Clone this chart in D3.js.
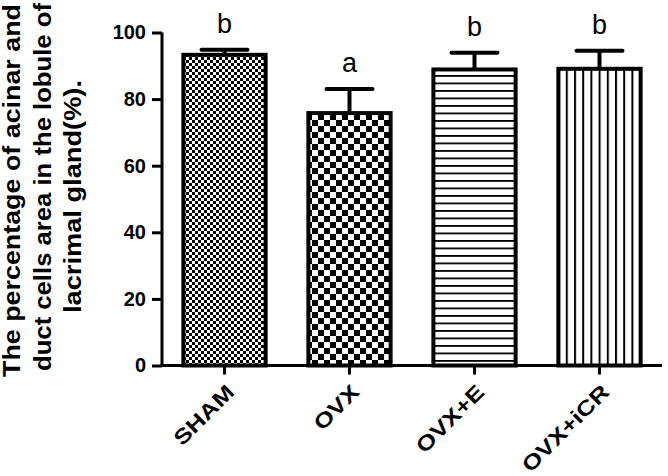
<!DOCTYPE html>
<html><head><meta charset="utf-8">
<script src="https://cdn.jsdelivr.net/npm/d3@7/dist/d3.min.js"></script>
<style>body{margin:0;background:#fff}svg{display:block}</style>
</head><body>
<script>
const categories = ["SHAM", "OVX", "OVX+E", "OVX+iCR"];
const means = [93.3, 75.8, 88.9, 89.1];
const sems = [1.5, 7.2, 5.0, 5.4];
const letters = ["b", "a", "b", "b"];
const yTicks = [0, 20, 40, 60, 80, 100];
const yTitle = ["The percentage of acinar and", "duct cells area in the lobule of", "lacrimal gland(%)."];
const patterns = ["fineCheck", "coarseCheck", "hLines", "vLines"];

const W = 668, H = 476;
const FONT = "Liberation Sans, Arial, sans-serif";
const svg = d3.select("body").append("svg").attr("width", W).attr("height", H);
const defs = svg.append("defs");

function check(id, s) {
  const p = defs.append("pattern").attr("id", id).attr("patternUnits", "userSpaceOnUse")
    .attr("width", 2 * s).attr("height", 2 * s);
  p.append("rect").attr("width", 2 * s).attr("height", 2 * s).attr("fill", "#fff");
  p.append("rect").attr("width", s).attr("height", s).attr("fill", "#000");
  p.append("rect").attr("x", s).attr("y", s).attr("width", s).attr("height", s).attr("fill", "#000");
}
check("fineCheck", 3);
check("coarseCheck", 6);
{
  const p = defs.append("pattern").attr("id", "hLines").attr("patternUnits", "userSpaceOnUse")
    .attr("width", 8).attr("height", 7.5);
  p.append("rect").attr("width", 8).attr("height", 7.5).attr("fill", "#fff");
  p.append("rect").attr("y", 0).attr("width", 8).attr("height", 1.8).attr("fill", "#000");
}
{
  const p = defs.append("pattern").attr("id", "vLines").attr("patternUnits", "userSpaceOnUse")
    .attr("width", 8.2).attr("height", 8);
  p.append("rect").attr("width", 8.2).attr("height", 8).attr("fill", "#fff");
  p.append("rect").attr("x", 0).attr("width", 2).attr("height", 8).attr("fill", "#000");
}

const x0 = 162, x1 = 662, yTop = 32.5, yBot = 365.5;
const x = d3.scaleBand().domain(categories).range([x0, x1]).paddingInner(0.31).paddingOuter(0.155);
const y = d3.scaleLinear().domain([0, 100]).range([yBot, yTop]);

// bars
const g = svg.append("g");
categories.forEach((c, i) => {
  const bx = x(c) + 2, bw = x.bandwidth() - 4;
  const top = y(means[i]);
  g.append("rect").attr("x", bx).attr("y", top).attr("width", bw).attr("height", y(0) - top)
    .attr("fill", `url(#${patterns[i]})`).attr("stroke", "#000").attr("stroke-width", 4);
  const cx = x(c) + x.bandwidth() / 2;
  const ey = y(means[i] + sems[i]);
  g.append("line").attr("x1", cx).attr("x2", cx).attr("y1", top).attr("y2", ey)
    .attr("stroke", "#000").attr("stroke-width", 4);
  g.append("line").attr("x1", cx - 23).attr("x2", cx + 23).attr("y1", ey).attr("y2", ey)
    .attr("stroke", "#000").attr("stroke-width", 4).attr("stroke-linecap", "round");
  g.append("text").attr("x", cx).attr("y", ey - 17).attr("text-anchor", "middle")
    .attr("font-family", FONT).attr("font-size", 27)
    .attr("fill", "#000").text(letters[i]);
});

// y axis
const yAx = svg.append("g").attr("transform", `translate(${x0},0)`)
  .call(d3.axisLeft(y).tickValues(yTicks).tickSize(10).tickPadding(6));
yAx.select(".domain").attr("stroke-width", 3).attr("d", `M0,${yTop}V${yBot}`);
yAx.selectAll(".tick line").attr("stroke-width", 3);
yAx.selectAll(".tick text").attr("font-family", FONT)
  .attr("font-size", 20).attr("font-weight", "bold").attr("fill", "#000");

// x axis
const xAx = svg.append("g").attr("transform", `translate(0,${yBot})`)
  .call(d3.axisBottom(x).tickSize(9).tickPadding(4));
xAx.select(".domain").attr("stroke-width", 3).attr("d", `M${x0 - 1.5},0H${x1}`);
xAx.selectAll(".tick line").attr("stroke-width", 3);
xAx.selectAll(".tick text").attr("font-family", FONT)
  .attr("font-size", 21).attr("font-weight", "bold").attr("fill", "#000")
  .attr("text-anchor", "end").attr("dy", null).attr("y", 0)
  .attr("transform", "translate(11,28) rotate(-45) scale(1.22,1)");

// y title (rotated; each line placed along the rotated axis)
const titleLayout = [
  { pos: 377, base: 20, len: 373 },
  { pos: 371, base: 51, len: 368 },
  { pos: 313, base: 81, len: 233 }
];
yTitle.forEach((t, i) => {
  const L = titleLayout[i];
  svg.append("text").attr("transform", `translate(${L.base},${L.pos}) rotate(-90)`)
    .attr("text-anchor", "start").attr("font-family", FONT)
    .attr("textLength", L.len).attr("lengthAdjust", "spacingAndGlyphs")
    .attr("font-size", 23).attr("font-weight", "bold").attr("fill", "#000").text(t);
});
</script>
</body></html>
